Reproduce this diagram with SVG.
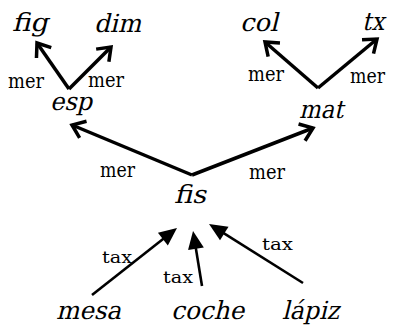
<svg xmlns="http://www.w3.org/2000/svg" width="395" height="326" viewBox="0 0 395 326">
<style>
text{font-family:"DejaVu Serif",serif;fill:#000}
.node{font-size:25px}
.mer{font-size:20px}
.tax{font-size:16px}
.m{stroke:#000;stroke-width:3.5;fill:none;marker-end:url(#open)}
.t{stroke:#000;stroke-width:2.6;fill:none;marker-end:url(#tri)}
</style>
<defs>
<marker id="open" markerUnits="userSpaceOnUse" markerWidth="30" markerHeight="30" viewBox="-20 -15 30 30" refX="0" refY="0" orient="auto">
<path d="M-12,-9 L0,0 L-12,9" fill="none" stroke="#000" stroke-width="3.5"/>
</marker>
<marker id="tri" markerUnits="userSpaceOnUse" markerWidth="30" markerHeight="30" viewBox="-20 -15 30 30" refX="0" refY="0" orient="auto">
<path d="M-12,-8 L6,0 L-12,8 Z" fill="#000"/>
</marker>
</defs>
<g id="connectors">
<line class="m" x1="69" y1="89" x2="37" y2="43"/>
<line class="m" x1="69" y1="89" x2="111" y2="47"/>
<line class="m" x1="318" y1="88" x2="265" y2="42"/>
<line class="m" x1="318" y1="88" x2="377" y2="39"/>
<line class="m" x1="192" y1="175" x2="72" y2="125"/>
<line class="m" x1="192" y1="175" x2="313" y2="128"/>
<line class="t" x1="92" y1="295" x2="172.3" y2="231.7"/>
<line class="t" x1="202" y1="286" x2="194" y2="236.9"/>
<line class="t" x1="303" y1="283" x2="214.1" y2="227.2"/>
<text class="mer" x="8" y="88" textLength="36" lengthAdjust="spacingAndGlyphs">mer</text>
<text class="mer" x="88" y="87" textLength="36" lengthAdjust="spacingAndGlyphs">mer</text>
<text class="mer" x="248" y="81" textLength="36" lengthAdjust="spacingAndGlyphs">mer</text>
<text class="mer" x="350" y="83" textLength="35" lengthAdjust="spacingAndGlyphs">mer</text>
<text class="mer" x="100" y="177" textLength="35" lengthAdjust="spacingAndGlyphs">mer</text>
<text class="mer" x="249" y="179" textLength="36" lengthAdjust="spacingAndGlyphs">mer</text>
<text class="tax" x="102" y="263" textLength="30" lengthAdjust="spacingAndGlyphs">tax</text>
<text class="tax" x="163" y="283" textLength="30" lengthAdjust="spacingAndGlyphs">tax</text>
<text class="tax" x="262" y="250" textLength="31" lengthAdjust="spacingAndGlyphs">tax</text>
</g>
<g id="fig"><text class="node" transform="translate(12,31) skewX(-14)" textLength="36" lengthAdjust="spacingAndGlyphs">fig</text></g>
<g id="dim"><text class="node" transform="translate(94,32) skewX(-14)" textLength="47" lengthAdjust="spacingAndGlyphs">dim</text></g>
<g id="col"><text class="node" transform="translate(240,31) skewX(-14)" textLength="38" lengthAdjust="spacingAndGlyphs">col</text></g>
<g id="tx"><text class="node" transform="translate(362,30) skewX(-14)" textLength="22" lengthAdjust="spacingAndGlyphs">tx</text></g>
<g id="esp"><text class="node" transform="translate(50,110) skewX(-14)" textLength="42" lengthAdjust="spacingAndGlyphs">esp</text></g>
<g id="mat"><text class="node" transform="translate(299,118) skewX(-14)" textLength="44" lengthAdjust="spacingAndGlyphs">mat</text></g>
<g id="fis"><text class="node" transform="translate(174,203) skewX(-14)" textLength="32" lengthAdjust="spacingAndGlyphs">fis</text></g>
<g id="mesa"><text class="node" transform="translate(56,319) skewX(-14)" textLength="65" lengthAdjust="spacingAndGlyphs">mesa</text></g>
<g id="coche"><text class="node" transform="translate(171,319) skewX(-14)" textLength="73" lengthAdjust="spacingAndGlyphs">coche</text></g>
<g id="lapiz"><text class="node" transform="translate(282,319) skewX(-14)" textLength="57" lengthAdjust="spacingAndGlyphs">lápiz</text></g>
</svg>
